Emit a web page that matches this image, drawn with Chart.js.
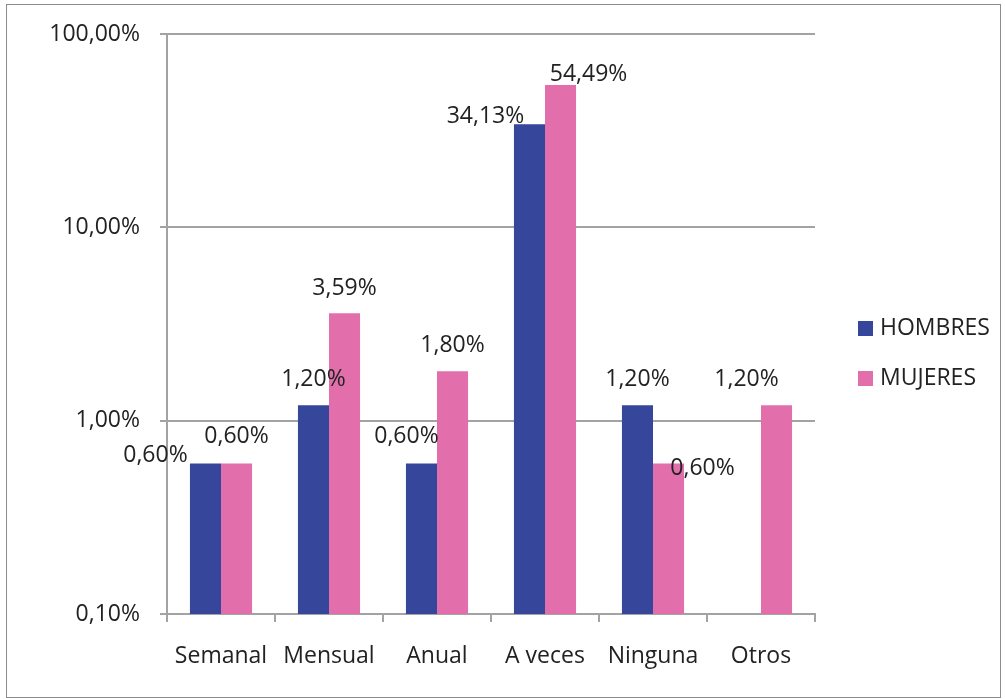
<!DOCTYPE html>
<html>
<head>
<meta charset="utf-8">
<script src="https://cdn.jsdelivr.net/npm/chart.js@4/dist/chart.umd.min.js"></script>
<style>
  html, body { margin: 0; padding: 0; background: #fff; }
  #wrap { position: relative; width: 1005px; height: 699px; }
  #frame { position: absolute; left: 6px; top: 4px; width: 993px; height: 692px; border: 1px solid #8c8c8c; pointer-events: none; }
</style>
</head>
<body>
<div id="wrap">
  <canvas id="chart" width="1005" height="699"></canvas>
  <div id="frame"></div>
</div>
<script>
// ----------------------
// Data
// ----------------------
const categories = ['Semanal', 'Mensual', 'Anual', 'A veces', 'Ninguna', 'Otros'];
const hombres = [0.6, 1.2, 0.6, 34.13, 1.2, null];
const mujeres = [0.6, 3.59, 1.8, 54.49, 0.6, 1.2];
const yTicks = [0.1, 1, 10, 100];

const colors = {
  blue: '#35469b',
  pink: '#e26fab',
  grid: '#a3a3a3',
  text: '#222222',
};
const FONT = '"Open Sans", "Liberation Sans", sans-serif';
const FONT_SIZE = 23;
const fmt = (v) => v.toFixed(2).replace('.', ',') + '%';

// label nudges (dx, dy from bar top centre), Excel placed them by hand
const labelNudge = [
  [[-50, -8], [0, -26], [-15, -27], [-44, -8], [0, -26], null],
  [[0, -27], [0, -25], [0, -26], [28, -11], [34, 5], [-30, -26]],
];

const valueLabels = {
  id: 'valueLabels',
  afterDatasetsDraw(chart) {
    const ctx = chart.ctx;
    ctx.save();
    ctx.font = FONT_SIZE + 'px ' + FONT;
    ctx.fillStyle = colors.text;
    ctx.textAlign = 'center';
    ctx.textBaseline = 'middle';
    chart.data.datasets.forEach((ds, di) => {
      chart.getDatasetMeta(di).data.forEach((bar, i) => {
        const v = ds.data[i];
        const n = labelNudge[di][i];
        if (v == null || !n) return;
        ctx.fillText(fmt(v), bar.x + n[0], bar.y + n[1]);
      });
    });
    ctx.restore();
  },
};

const sideLegend = {
  id: 'sideLegend',
  afterDraw(chart) {
    const ctx = chart.ctx;
    ctx.save();
    ctx.font = FONT_SIZE + 'px ' + FONT;
    ctx.textBaseline = 'middle';
    ctx.textAlign = 'left';
    chart.data.datasets.forEach((ds, i) => {
      const y = 328 + i * 50;
      ctx.fillStyle = ds.backgroundColor;
      ctx.fillRect(858, y - 7, 15, 15);
      ctx.fillStyle = colors.text;
      ctx.fillText(ds.label, 880, y);
    });
    ctx.restore();
  },
};

new Chart(document.getElementById('chart'), {
  type: 'bar',
  data: {
    labels: categories,
    datasets: [
      { label: 'HOMBRES', data: hombres, backgroundColor: colors.blue },
      { label: 'MUJERES', data: mujeres, backgroundColor: colors.pink },
    ],
  },
  options: {
    responsive: false,
    animation: false,
    devicePixelRatio: 1,
    layout: { padding: { left: 0, top: 34, right: 190, bottom: 0 } },
    datasets: { bar: { categoryPercentage: 0.575, barPercentage: 1 } },
    plugins: { legend: { display: false }, tooltip: { enabled: false } },
    scales: {
      x: {
        grid: { drawOnChartArea: false, offset: true, tickLength: 8, color: colors.grid, lineWidth: 2 },
        border: { color: colors.grid, width: 2 },
        ticks: { color: colors.text, font: { family: FONT, size: FONT_SIZE }, padding: 21 },
        afterFit(scale) { scale.height = 85; },
      },
      y: {
        type: 'logarithmic',
        min: 0.1,
        max: 100,
        afterBuildTicks(scale) { scale.ticks = yTicks.map((v) => ({ value: v })); },
        grid: { color: colors.grid, lineWidth: 2, tickLength: 7 },
        border: { color: colors.grid, width: 2 },
        ticks: { color: colors.text, font: { family: FONT, size: FONT_SIZE }, padding: 20, callback: (v) => fmt(v) },
        afterFit(scale) { scale.width = 167; },
      },
    },
  },
  plugins: [valueLabels, sideLegend],
});
</script>
</body>
</html>
